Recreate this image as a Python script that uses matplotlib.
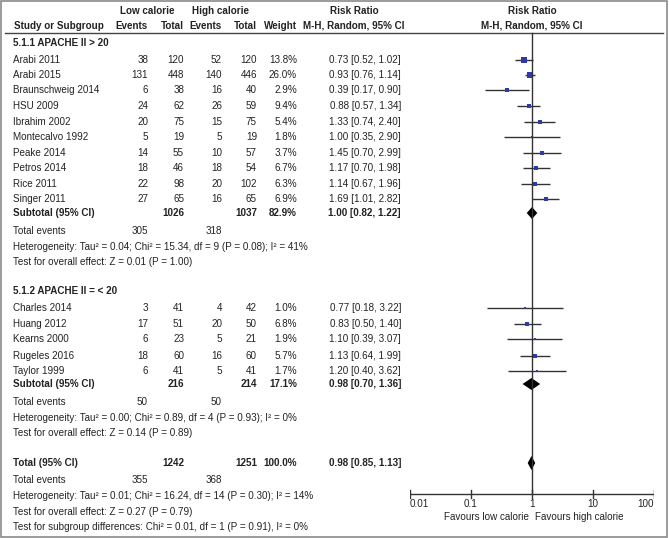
import matplotlib.pyplot as plt
import numpy as np

plt.rcParams['font.family'] = ['Liberation Sans Narrow', 'Liberation Sans', 'DejaVu Sans']

# Subgroup 5.1.1 APACHE II > 20
studies1 = ['Arabi 2011', 'Arabi 2015', 'Braunschweig 2014', 'HSU 2009', 'Ibrahim 2002',
            'Montecalvo 1992', 'Peake 2014', 'Petros 2014', 'Rice 2011', 'Singer 2011']
ev_low1 = [38, 131, 6, 24, 20, 5, 14, 18, 22, 27]
tot_low1 = [120, 448, 38, 62, 75, 19, 55, 46, 98, 65]
ev_high1 = [52, 140, 16, 26, 15, 5, 10, 18, 20, 16]
tot_high1 = [120, 446, 40, 59, 75, 19, 57, 54, 102, 65]
weight1 = [13.8, 26.0, 2.9, 9.4, 5.4, 1.8, 3.7, 6.7, 6.3, 6.9]
rr1 = [0.73, 0.93, 0.39, 0.88, 1.33, 1.00, 1.45, 1.17, 1.14, 1.69]
lo1 = [0.52, 0.76, 0.17, 0.57, 0.74, 0.35, 0.70, 0.70, 0.67, 1.01]
hi1 = [1.02, 1.14, 0.90, 1.34, 2.40, 2.90, 2.99, 1.98, 1.96, 2.82]

# Subgroup 5.1.2 APACHE II =< 20
studies2 = ['Charles 2014', 'Huang 2012', 'Kearns 2000', 'Rugeles 2016', 'Taylor 1999']
ev_low2 = [3, 17, 6, 18, 6]
tot_low2 = [41, 51, 23, 60, 41]
ev_high2 = [4, 20, 5, 16, 5]
tot_high2 = [42, 50, 21, 60, 41]
weight2 = [1.0, 6.8, 1.9, 5.7, 1.7]
rr2 = [0.77, 0.83, 1.10, 1.13, 1.20]
lo2 = [0.18, 0.50, 0.39, 0.64, 0.40]
hi2 = [3.22, 1.40, 3.07, 1.99, 3.62]

# pooled: subgroup 1, subgroup 2, overall
pool_tot_low = [1026, 216, 1242]
pool_tot_high = [1037, 214, 1251]
pool_ev_low = [305, 50, 355]
pool_ev_high = [318, 50, 368]
pool_weight = [82.9, 17.1, 100.0]
pool_rr = [1.00, 0.98, 0.98]
pool_lo = [0.82, 0.70, 0.85]
pool_hi = [1.22, 1.36, 1.13]
het_text = ['Heterogeneity: Tau² = 0.04; Chi² = 15.34, df = 9 (P = 0.08); I² = 41%',
            'Heterogeneity: Tau² = 0.00; Chi² = 0.89, df = 4 (P = 0.93); I² = 0%',
            'Heterogeneity: Tau² = 0.01; Chi² = 16.24, df = 14 (P = 0.30); I² = 14%']
effect_text = ['Test for overall effect: Z = 0.01 (P = 1.00)',
               'Test for overall effect: Z = 0.14 (P = 0.89)',
               'Test for overall effect: Z = 0.27 (P = 0.79)']
subgroup_diff = 'Test for subgroup differences: Chi² = 0.01, df = 1 (P = 0.91), I² = 0%'
ticks = [0.01, 0.1, 1, 10, 100]
tick_labels = ['0.01', '0.1', '1', '10', '100']

W, H = 669, 538
fig = plt.figure(figsize=(W / 100, H / 100), dpi=100)
ax = fig.add_axes([0, 0, 1, 1])
ax.set_xlim(0, W)
ax.set_ylim(H, 0)
ax.axis('off')

# forest panel on log scale
fx = fig.add_axes([410 / W, 0, 244 / W, 1])
fx.set_xscale('log')
fx.set_xlim(0.01, 100)
fx.set_ylim(H, 0)
fx.axis('off')
fx.patch.set_alpha(0)

fs = 7.1
ink = '#222222'
x_name, x_el, x_tl, x_eh, x_th, x_w, x_rr = 13, 148, 184, 222, 257, 297, 401


def txt(x, y, s, ha='right', bold=False):
    ax.text(x, y, s, ha=ha, va='center', fontsize=fs, color=ink,
            fontweight='bold' if bold else 'normal')


def fmt_rr(r, l, h):
    return '%.2f [%.2f, %.2f]' % (r, l, h)


# border and header
ax.add_patch(plt.Rectangle((1, 0.5), W - 3, H - 2, fill=False, ec='#8a8a8a', lw=1.2))
ax.plot([5, 663], [33, 33], color='#444444', lw=1)
txt(147, 11, 'Low calorie', ha='center', bold=True)
txt(220, 11, 'High calorie', ha='center', bold=True)
txt(354, 11, 'Risk Ratio', ha='center', bold=True)
txt(532, 11, 'Risk Ratio', ha='center', bold=True)
txt(14, 26, 'Study or Subgroup', ha='left', bold=True)
txt(x_el, 26, 'Events', bold=True)
txt(x_tl, 26, 'Total', bold=True)
txt(x_eh, 26, 'Events', bold=True)
txt(x_th, 26, 'Total', bold=True)
txt(x_w, 26, 'Weight', bold=True)
txt(354, 26, 'M-H, Random, 95% CI', ha='center', bold=True)
txt(532, 26, 'M-H, Random, 95% CI', ha='center', bold=True)

groups = [
    ('5.1.1 APACHE II > 20', studies1, ev_low1, tot_low1, ev_high1, tot_high1, weight1, rr1, lo1, hi1,
     43, [60, 75, 90, 106, 122, 137, 153, 168, 184, 199], 213, 231, 247, 262),
    ('5.1.2 APACHE II = < 20', studies2, ev_low2, tot_low2, ev_high2, tot_high2, weight2, rr2, lo2, hi2,
     291, [308, 324, 339, 356, 371], 384, 402, 418, 433),
]

for g, (title, names, el, tl, eh, th, wt, rr, lo, hi, yt, ys, ysub, yev, yhet, yeff) in enumerate(groups):
    txt(x_name, yt, title, ha='left', bold=True)
    for i in range(len(names)):
        y = ys[i]
        txt(x_name, y, names[i], ha='left')
        txt(x_el, y, str(el[i]))
        txt(x_tl, y, str(tl[i]))
        txt(x_eh, y, str(eh[i]))
        txt(x_th, y, str(th[i]))
        txt(x_w, y, '%.1f%%' % wt[i])
        txt(x_rr, y, fmt_rr(rr[i], lo[i], hi[i]))
        fx.plot([lo[i], hi[i]], [y, y], color='#333333', lw=1, solid_capstyle='butt')
        fx.plot(rr[i], y, marker='s', ms=0.75 * np.sqrt(wt[i]) + 0.9, color='#2e3aa8', mew=0)
    txt(x_name, ysub, 'Subtotal (95% CI)', ha='left', bold=True)
    txt(x_tl, ysub, str(pool_tot_low[g]), bold=True)
    txt(x_th, ysub, str(pool_tot_high[g]), bold=True)
    txt(x_w, ysub, '%.1f%%' % pool_weight[g], bold=True)
    txt(x_rr, ysub, fmt_rr(pool_rr[g], pool_lo[g], pool_hi[g]), bold=True)
    fx.fill([pool_lo[g], pool_rr[g], pool_hi[g], pool_rr[g]], [ysub, ysub - 6, ysub, ysub + 6],
            color='black', lw=0)
    txt(x_name, yev, 'Total events', ha='left')
    txt(x_el, yev, str(pool_ev_low[g]))
    txt(x_eh, yev, str(pool_ev_high[g]))
    txt(x_name, yhet, het_text[g], ha='left')
    txt(x_name, yeff, effect_text[g], ha='left')

# overall
yt = 463
txt(x_name, yt, 'Total (95% CI)', ha='left', bold=True)
txt(x_tl, yt, str(pool_tot_low[2]), bold=True)
txt(x_th, yt, str(pool_tot_high[2]), bold=True)
txt(x_w, yt, '%.1f%%' % pool_weight[2], bold=True)
txt(x_rr, yt, fmt_rr(pool_rr[2], pool_lo[2], pool_hi[2]), bold=True)
fx.fill([pool_lo[2], pool_rr[2], pool_hi[2], pool_rr[2]], [yt, yt - 7, yt, yt + 7], color='black', lw=0)
txt(x_name, 480, 'Total events', ha='left')
txt(x_el, 480, str(pool_ev_low[2]))
txt(x_eh, 480, str(pool_ev_high[2]))
txt(x_name, 496, het_text[2], ha='left')
txt(x_name, 512, effect_text[2], ha='left')
txt(x_name, 527, subgroup_diff, ha='left')

# null line and axis
fx.plot([1, 1], [33, 494], color='#333333', lw=1)
fx.plot([0.01, 100], [494, 494], color='#333333', lw=1)
for t, lab in zip(ticks, tick_labels):
    fx.plot([t, t], [490, 498], color='#333333', lw=1)
    ha = 'left' if t == ticks[0] else ('right' if t == ticks[-1] else 'center')
    fx.text(t, 504, lab, ha=ha, va='center', fontsize=fs, color=ink)
fx.text(0.9, 517, 'Favours low calorie', ha='right', va='center', fontsize=fs, color=ink)
fx.text(1.12, 517, 'Favours high calorie', ha='left', va='center', fontsize=fs, color=ink)

fig.savefig('out.png', dpi=100)
